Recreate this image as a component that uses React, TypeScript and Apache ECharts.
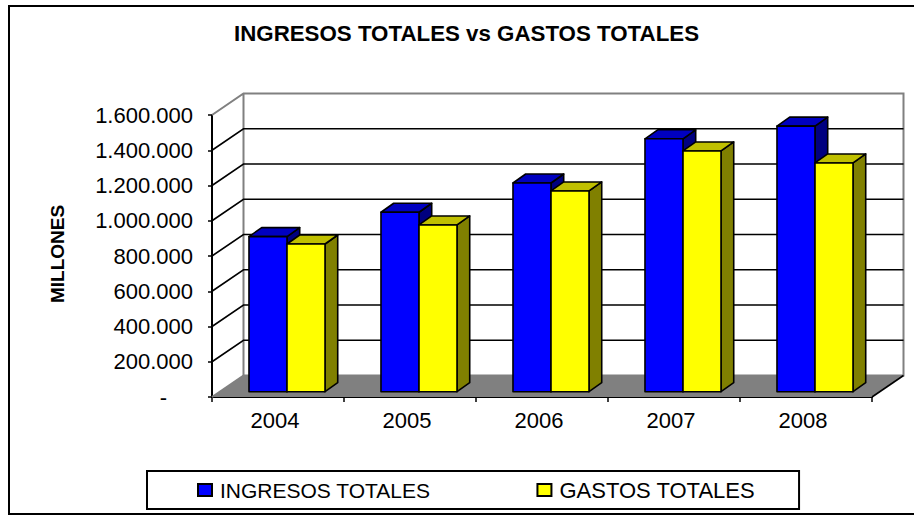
import React, { useEffect, useRef } from "react";
import * as echarts from "echarts";

const categories = ["2004", "2005", "2006", "2007", "2008"];
const ingresos = [880000, 1018000, 1184000, 1435000, 1507000];
const gastos = [838000, 946000, 1139000, 1366000, 1298000];
const gridValues = [200000, 400000, 600000, 800000, 1000000, 1200000, 1400000];
const FONT = '"Liberation Sans", Arial, sans-serif';

const WALL_DX = 31.5;
const WALL_DY = -21.5;
const BAR_DX = 12.7;
const BAR_DY = -9;
const BAR_OFF_X = 9;
const BAR_OFF_Y = -5.3;

function tickLabel(v: number) {
  if (v === 0) return "{d|-}";
  return String(v).replace(/\B(?=(\d{3})+$)/g, ".");
}

function bar3d(colors: string[], side: number) {
  return (params: any, api: any) => {
    const idx = api.value(0);
    const [cx, top] = api.coord([idx, api.value(1)]);
    const [, base] = api.coord([idx, 0]);
    const w = api.size([1, 0])[0] * 0.288;
    const x = cx + BAR_OFF_X + (side < 0 ? -w : 0);
    const y0 = top + BAR_OFF_Y;
    const y1 = base + BAR_OFF_Y;
    const line = { stroke: "#000", lineWidth: 1.6, lineJoin: "round" };
    return {
      type: "group",
      children: [
        { type: "polygon", shape: { points: [[x + w, y0], [x + w + BAR_DX, y0 + BAR_DY], [x + w + BAR_DX, y1 + BAR_DY], [x + w, y1]] }, style: { fill: colors[2], ...line } },
        { type: "polygon", shape: { points: [[x, y0], [x + BAR_DX, y0 + BAR_DY], [x + w + BAR_DX, y0 + BAR_DY], [x + w, y0]] }, style: { fill: colors[1], ...line } },
        { type: "rect", shape: { x, y: y0, width: w, height: y1 - y0 }, style: { fill: colors[0], ...line } },
      ],
    };
  };
}

export default function App() {
  const ref = useRef<HTMLDivElement>(null);
  useEffect(() => {
    const chart = echarts.init(ref.current!, undefined, { renderer: "svg" });
    chart.setOption({
      animation: false,
      backgroundColor: "#fff",
      title: {
        text: "INGRESOS TOTALES vs GASTOS TOTALES",
        left: 461.5,
        top: 17,
        textAlign: "center",
        textStyle: { fontFamily: FONT, fontSize: 22.3, fontWeight: "bold", color: "#000" },
      },
      legend: {
        left: 147,
        top: 471,
        padding: [8, 44, 8, 50],
        itemGap: 106,
        itemWidth: 14,
        itemHeight: 12,
        icon: "rect",
        borderColor: "#000",
        borderWidth: 2,
        textStyle: { fontFamily: FONT, fontSize: 21, color: "#000", padding: [0, 0, 0, 3] },
        data: [
          { name: "INGRESOS TOTALES" },
          { name: "GASTOS TOTALES", textStyle: { fontFamily: FONT, fontSize: 22, color: "#000", padding: [0, 0, 0, 3] } },
        ],
      },
      grid: { left: 212, right: 42, top: 115, bottom: 118, containLabel: false },
      xAxis: {
        type: "category",
        data: categories,
        axisLine: { lineStyle: { color: "#000", width: 2 } },
        axisTick: { show: true, length: 5, lineStyle: { color: "#000", width: 1.5 } },
        axisLabel: { fontFamily: FONT, fontSize: 22, color: "#000", margin: 12, padding: [0, 6, 0, 0] },
      },
      yAxis: {
        type: "value",
        min: 0,
        max: 1600000,
        interval: 200000,
        name: "MILLONES",
        nameLocation: "middle",
        nameRotate: 90,
        nameGap: 145,
        nameTextStyle: { fontFamily: FONT, fontSize: 19, fontWeight: "bold", color: "#000", padding: [0, 0, 0, 4] },
        axisLine: { show: true, lineStyle: { color: "#000", width: 2 } },
        axisTick: { show: true, length: 4, lineStyle: { color: "#000", width: 1.5 } },
        splitLine: { show: false },
        axisLabel: {
          fontFamily: FONT,
          fontSize: 22,
          color: "#000",
          margin: 19,
          formatter: tickLabel,
          rich: { d: { fontFamily: FONT, fontSize: 22, color: "#000", padding: [0, 26, 0, 0] } },
        },
      },
      graphic: [
        {
          type: "polyline",
          silent: true,
          shape: { points: [[914, 6], [9, 6], [9, 514], [914, 514]] },
          style: { stroke: "#000", lineWidth: 2, fill: "none" },
        },
      ],
      series: [
        {
          type: "custom",
          name: "wall",
          silent: true,
          z: 1,
          clip: false,
          data: [0],
          renderItem: (params: any, api: any) => {
            const c = params.coordSys;
            const x0 = c.x;
            const x1 = c.x + c.width;
            const yT = c.y;
            const yB = c.y + c.height;
            const gray = { stroke: "#808080", lineWidth: 2 };
            return {
              type: "group",
              children: [
                { type: "polygon", shape: { points: [[x0, yB], [x1, yB], [x1 + WALL_DX, yB + WALL_DY], [x0 + WALL_DX, yB + WALL_DY]] }, style: { fill: "#808080" } },
                { type: "polyline", shape: { points: [[x0, yT], [x0 + WALL_DX, yT + WALL_DY], [x1 + WALL_DX, yT + WALL_DY], [x1 + WALL_DX, yB + WALL_DY], [x0 + WALL_DX, yB + WALL_DY], [x0 + WALL_DX, yT + WALL_DY]] }, style: { fill: "none", ...gray } },
                { type: "line", shape: { x1: x0, y1: yB, x2: x0 + WALL_DX, y2: yB + WALL_DY }, style: gray },
                { type: "line", shape: { x1: x1, y1: yB, x2: x1 + WALL_DX, y2: yB + WALL_DY }, style: { stroke: "#000", lineWidth: 1.6 } },
              ],
            };
          },
        },
        {
          type: "custom",
          name: "grid3d",
          silent: true,
          z: 2,
          clip: false,
          data: gridValues.map((v) => [v]),
          renderItem: (params: any, api: any) => {
            const c = params.coordSys;
            const y = api.coord([0, api.value(0)])[1];
            return {
              type: "polyline",
              shape: { points: [[c.x, y], [c.x + WALL_DX, y + WALL_DY], [c.x + c.width + WALL_DX, y + WALL_DY]] },
              style: { fill: "none", stroke: "#000", lineWidth: 1.6 },
            };
          },
        },
        {
          type: "custom",
          name: "INGRESOS TOTALES",
          z: 3,
          clip: false,
          itemStyle: { color: "#0000FF", borderColor: "#000", borderWidth: 1.5 },
          data: ingresos.map((v, i) => [i, v]),
          encode: { x: 0, y: 1 },
          renderItem: bar3d(["#0000FF", "#0000C0", "#000080"], -1),
        },
        {
          type: "custom",
          name: "GASTOS TOTALES",
          z: 4,
          clip: false,
          itemStyle: { color: "#FFFF00", borderColor: "#000", borderWidth: 1.5 },
          data: gastos.map((v, i) => [i, v]),
          encode: { x: 0, y: 1 },
          renderItem: bar3d(["#FFFF00", "#C0C000", "#808000"], 1),
        },
      ],
    });
    return () => chart.dispose();
  }, []);
  return <div ref={ref} style={{ position: "absolute", left: 0, top: 0, width: 914, height: 515 }} />;
}
